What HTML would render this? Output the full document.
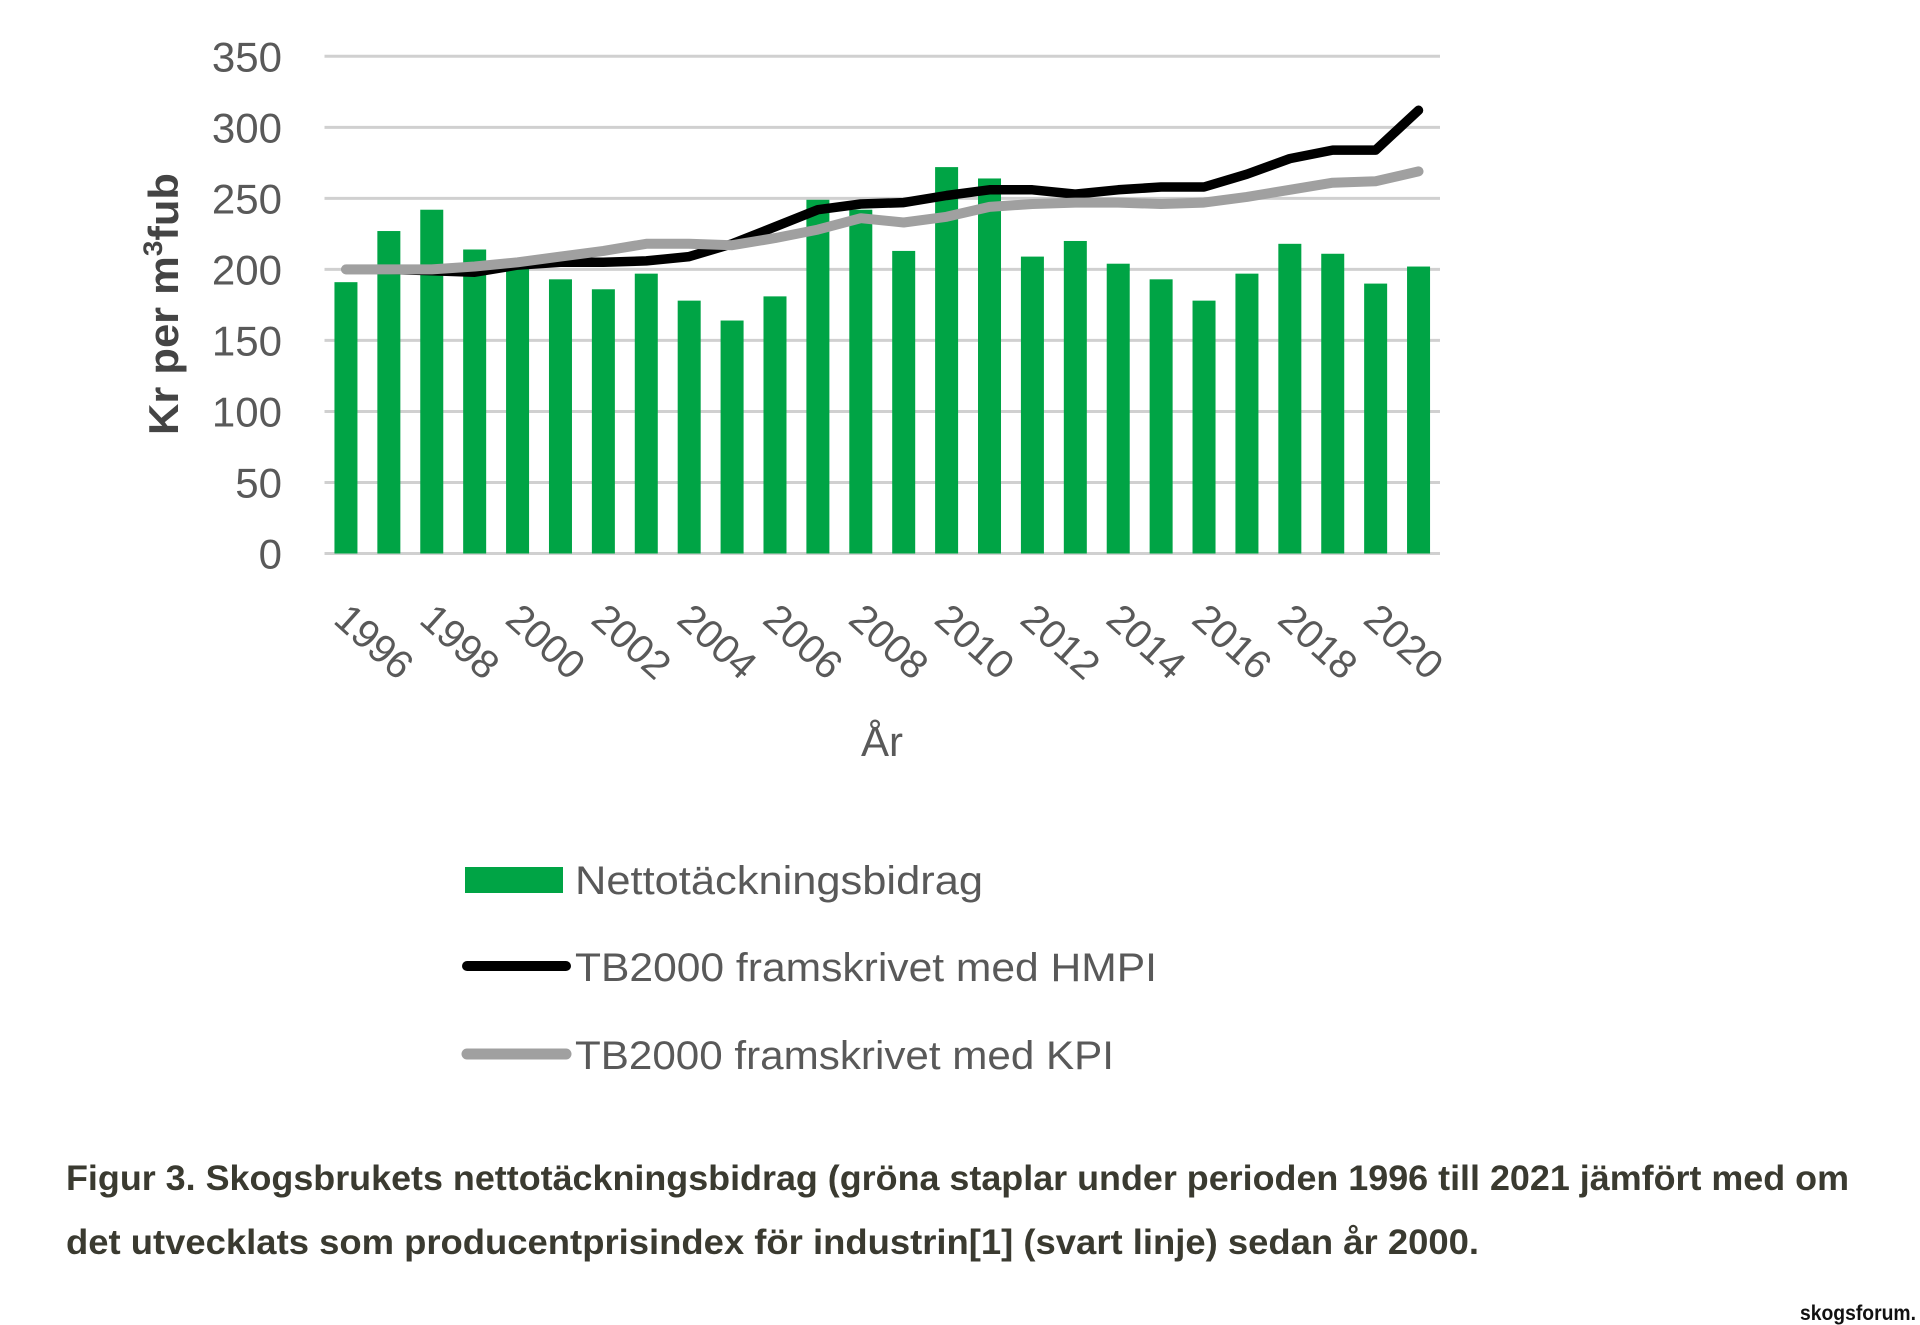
<!DOCTYPE html>
<html><head><meta charset="utf-8"><style>
html,body{margin:0;padding:0;background:#fff;}
svg{display:block;}
text{font-family:"Liberation Sans",sans-serif;}
</style></head><body>
<svg id="chart" width="1920" height="1325" viewBox="0 0 1920 1325" xmlns="http://www.w3.org/2000/svg">
<g id="grid"></g>
<g id="yticks"></g>
<g id="bars"></g>
<g id="lines"></g>
<g id="xticks"></g>
<text transform="translate(178,304) rotate(-90)" text-anchor="middle" font-size="42" font-weight="bold" fill="#444" textLength="262" lengthAdjust="spacingAndGlyphs">Kr per m<tspan font-size="27" dy="-16">3</tspan><tspan dy="16">fub</tspan></text>
<text x="882" y="756" text-anchor="middle" font-size="42" fill="#595959">År</text>
<g>
<rect x="465" y="867" width="98" height="26" fill="#00a445"/>
<text x="575" y="894" font-size="40" fill="#595959" textLength="408" lengthAdjust="spacingAndGlyphs">Nettotäckningsbidrag</text>
<line x1="467" y1="966" x2="566" y2="966" stroke="#000" stroke-width="10" stroke-linecap="round"/>
<text x="575" y="981" font-size="40" fill="#595959" textLength="582" lengthAdjust="spacingAndGlyphs">TB2000 framskrivet med HMPI</text>
<line x1="467" y1="1054" x2="566" y2="1054" stroke="#a0a0a0" stroke-width="11" stroke-linecap="round"/>
<text x="575" y="1069" font-size="40" fill="#595959" textLength="539" lengthAdjust="spacingAndGlyphs">TB2000 framskrivet med KPI</text>
</g>
<text x="66" y="1190" font-size="35" font-weight="bold" fill="#3a3a30" textLength="1783" lengthAdjust="spacingAndGlyphs">Figur 3. Skogsbrukets nettotäckningsbidrag (gröna staplar under perioden 1996 till 2021 jämfört med om</text>
<text x="66" y="1254" font-size="35" font-weight="bold" fill="#3a3a30" textLength="1413" lengthAdjust="spacingAndGlyphs">det utvecklats som producentprisindex för industrin[1] (svart linje) sedan år 2000.</text>
<text x="1800" y="1320" font-size="21" font-weight="bold" fill="#111" textLength="116" lengthAdjust="spacingAndGlyphs">skogsforum.</text>
</svg>
<script>
const years = [1996,1997,1998,1999,2000,2001,2002,2003,2004,2005,2006,2007,2008,2009,2010,2011,2012,2013,2014,2015,2016,2017,2018,2019,2020,2021];
const netto = [191,227,242,214,203,193,186,197,178,164,181,249,242,213,272,264,209,220,204,193,178,197,218,211,190,202];
const hmpi = [200,200,199,198,203,205,205,206,209,218,230,242,246,247,252,256,256,253,256,258,258,267,278,284,284,312];
const kpi = [200,200,200,202,205,209,213,218,218,217,222,228,236,233,237,244,246,247,247,246,247,251,256,261,262,269];
const yTicks = [0,50,100,150,200,250,300,350];
const xLabels = ["1996","1998","2000","2002","2004","2006","2008","2010","2012","2014","2016","2018","2020"];

const NS = "http://www.w3.org/2000/svg";
const X0 = 324.5, X1 = 1440, Y0 = 553.5, Y350 = 56.3;
const band = (X1 - X0) / years.length;
function xC(i){ return X0 + band * (i + 0.5); }
function yS(v){ return Y0 - (v / 350) * (Y0 - Y350); }
function mk(tag, attrs, parent){ const e = document.createElementNS(NS, tag); for (const k in attrs) e.setAttribute(k, attrs[k]); parent.appendChild(e); return e; }

const grid = document.getElementById('grid'), yt = document.getElementById('yticks');
yTicks.forEach(v => {
  const l = mk('line', {x1:X0, x2:X1, y1:yS(v), y2:yS(v), stroke:'#d0d0d0', 'stroke-width':3}, grid);
  
  
  const t = mk('text', {x:282, y:yS(v)+15, 'text-anchor':'end', 'font-size':42, fill:'#595959'}, yt);
  t.textContent = v;
  
  
});

const bars = document.getElementById('bars');
const bw = 23;
netto.forEach((v, i) => {
  const r = mk('rect', {x:xC(i)-bw/2, y:yS(v), width:bw, height:Y0-yS(v), fill:'#00a445'}, bars);
  
  
});

const lines = document.getElementById('lines');
function drawLine(vals, color, w, name){
  const pts = vals.map((v, i) => xC(i).toFixed(1) + ',' + yS(v).toFixed(1)).join(' ');
  const p = mk('polyline', {points:pts, fill:'none', stroke:color, 'stroke-width':w, 'stroke-linejoin':'round', 'stroke-linecap':'round'}, lines);
  
  
}
drawLine(hmpi, '#000', 9.5, 'line-hmpi');
drawLine(kpi, '#a0a0a0', 10, 'line-kpi');

const xt = document.getElementById('xticks');
xLabels.forEach(lab => {
  const i = years.indexOf(Number(lab));
  const x = xC(i) - 14, y = 622;
  const t = mk('text', {x:x, y:y, transform:'rotate(42 ' + x + ' ' + y + ')', 'font-size':40, fill:'#595959'}, xt);
  t.textContent = lab;
  
  
});
</script>
</body></html>
